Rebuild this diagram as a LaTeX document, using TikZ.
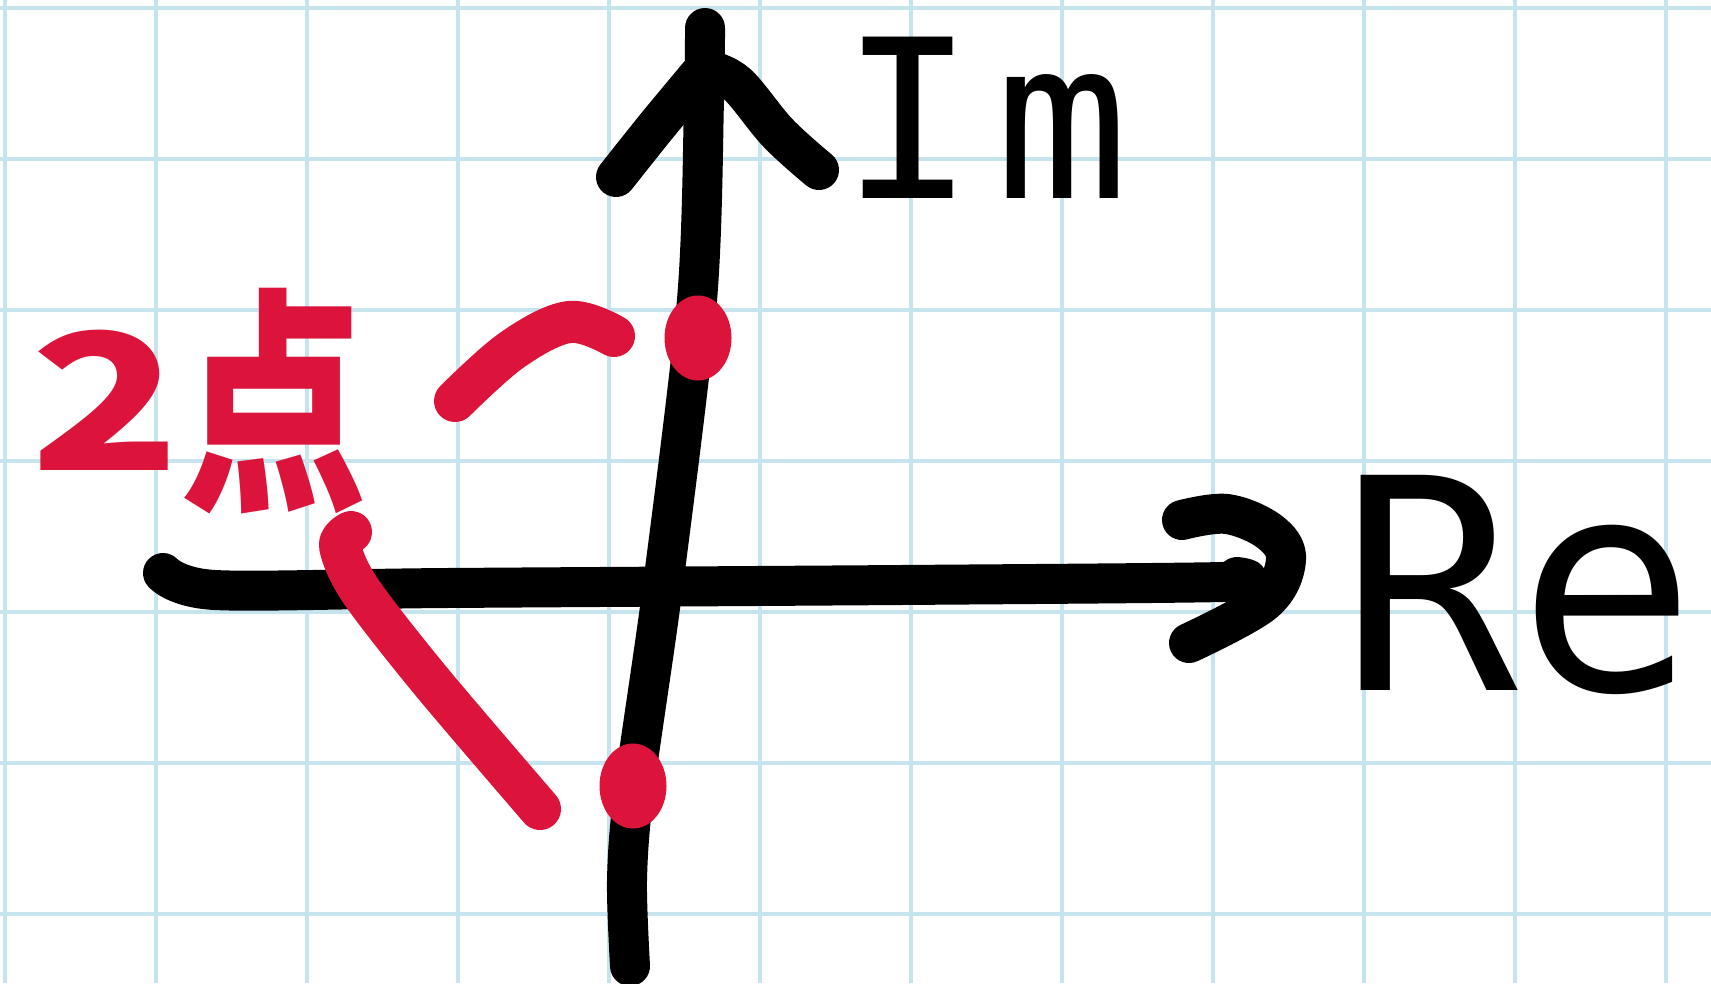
\documentclass[tikz,border=0pt]{standalone}
\usepackage{fontspec}
\usepackage{graphicx}
\usepackage{tikz}
\usetikzlibrary{shapes.geometric}
\newfontfamily\handmono{DejaVu Sans Mono}
\newfontfamily\cjkjp{Noto Sans CJK JP}
\definecolor{inkred}{RGB}{220,20,60}
\definecolor{gridblue}{RGB}{198,228,238}

\begin{document}
\begin{tikzpicture}[
  x=0.1mm, y=-0.1mm,
  gridln/.style={gridblue, line width=0.35mm},
  ink/.style={black, line width=4mm, line cap=round, line join=round},
  redink/.style={ink, inkred, line width=4.2mm},
  dotpt/.style={ellipse, fill=inkred, inner sep=0pt,
                minimum width=6.7mm, minimum height=8.5mm},
  axlbl/.style={inner sep=0pt, anchor=base}
]

\fill[white] (0,0) rectangle (1711,983);
\useasboundingbox (0,0) rectangle (1711,983);

%% grid paper
\foreach \gx in {5,156,...,1666} \draw[gridln] (\gx,0) -- (\gx,983);
\foreach \gy in {8,159,...,914} \draw[gridln] (0,\gy) -- (1711,\gy);

%% imaginary axis + arrow head
\draw[ink] plot[smooth, tension=0.5] coordinates {(630,966) (627,880) (634,790)
  (663,585) (697,300) (704,100) (705,28)};
\draw[ink] plot[smooth, tension=0.5] coordinates {(616,177) (655,128) (699,75)};
\draw[ink] plot[smooth, tension=0.6] coordinates {(708,70) (737,84) (778,133) (819,170)};

%% real axis + arrow head
\draw[ink] plot[smooth, tension=0.5] coordinates {(163,573) (215,590) (446,588)
  (900,585) (1222,582) (1237,577)};
\draw[ink] plot[smooth, tension=0.6] coordinates {(1182,520) (1227,514) (1270,532)
  (1286,560) (1264,602) (1189,643)};

\node[axlbl, font=\handmono\fontsize{63pt}{63pt}\selectfont] (imlbl) at (985,198) {I\kern6pt m};
\node[axlbl, font=\handmono\fontsize{84pt}{84pt}\selectfont] (relbl) at (1518,690) {Re};

%% the two points on the imaginary axis
\node[dotpt] (ptup) at (698,338) {};
\node[dotpt] (ptdn) at (633,786) {};

\node[inner sep=0pt, anchor=base west, text=inkred,
      font=\cjkjp\bfseries\fontsize{68pt}{68pt}\selectfont] (twopts) at (30,492)
  {\raisebox{6pt}{\scalebox{1.3}[1]{\fontsize{54pt}{54pt}\selectfont 2}}\scalebox{0.78}[1]{点}};

%% pointers from the label
\draw[redink] plot[smooth, tension=0.6] coordinates {(455,401) (512,350) (569,322)
  (614,336)};
\draw[redink] plot[smooth, tension=0.5] coordinates {(351,532) (340,546) (360,590)
  (430,680) (540,809)};

\end{tikzpicture}
\end{document}
